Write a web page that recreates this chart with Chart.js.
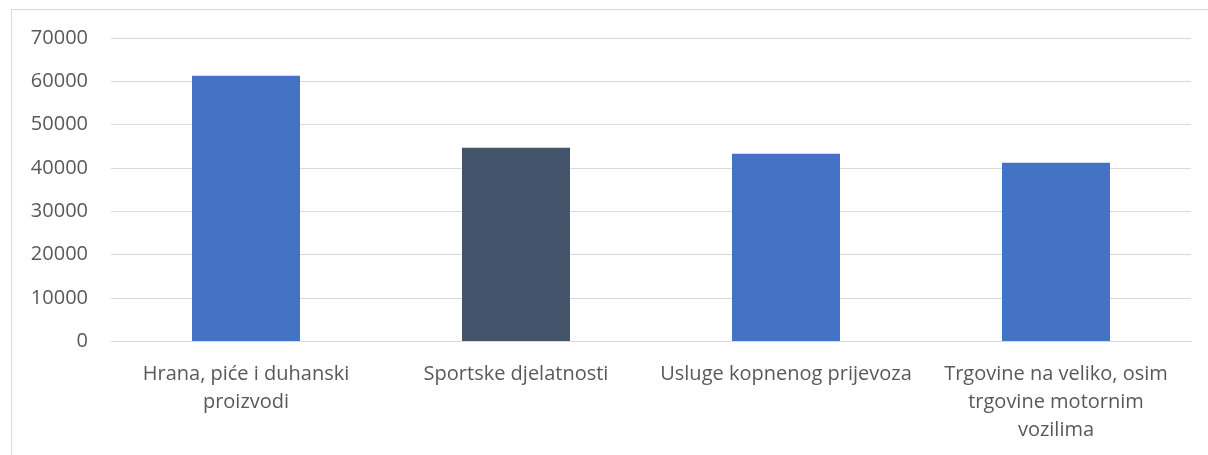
<!DOCTYPE html>
<html>
<head>
<meta charset="utf-8">
<script src="https://cdn.jsdelivr.net/npm/chart.js@4/dist/chart.umd.min.js"></script>
<style>
  html, body { margin: 0; padding: 0; background: #fff; }
  #wrap { position: relative; width: 1208px; height: 455px; }
  #frame { position: absolute; left: 11px; top: 9px; width: 1197px; height: 446px;
           border-left: 1px solid #d9d9d9; border-top: 1px solid #d9d9d9; box-sizing: border-box; }
  canvas { position: absolute; left: 0; top: 0; }
</style>
</head>
<body>
<div id="wrap">
  <div id="frame"></div>
  <canvas id="c" width="1208" height="455"></canvas>
</div>
<script>
const categories = [
  ["Hrana, piće i duhanski", "proizvodi"],
  ["Sportske djelatnosti"],
  ["Usluge kopnenog prijevoza"],
  ["Trgovine na veliko, osim", "trgovine motornim", "vozilima"]
];
const values = [61300, 44700, 43300, 41200];
const barColors = ["#4472C4", "#44546A", "#4472C4", "#4472C4"];
const yMin = 0, yMax = 70000, yStep = 10000;

const FONT = "'Open Sans', 'Liberation Sans', sans-serif";

new Chart(document.getElementById('c'), {
  type: 'bar',
  data: {
    labels: categories,
    datasets: [{
      data: values,
      backgroundColor: barColors,
      borderWidth: 0,
      barPercentage: 0.4,
      categoryPercentage: 1.0
    }]
  },
  options: {
    responsive: false,
    animation: false,
    devicePixelRatio: 1,
    layout: { padding: { left: 0, right: 17, top: 38, bottom: 0 } },
    plugins: { legend: { display: false }, tooltip: { enabled: false } },
    scales: {
      x: {
        grid: { display: false, drawTicks: false },
        border: { display: true, color: '#d9d9d9', width: 1 },
        ticks: { color: '#595959', font: { family: FONT, size: 20, lineHeight: 1.4 }, padding: 19, maxRotation: 0, autoSkip: false },
        afterFit: (s) => { s.height = 113.5; }
      },
      y: {
        min: yMin, max: yMax,
        grid: { color: '#d9d9d9', lineWidth: 1, drawTicks: false },
        border: { display: false },
        ticks: { stepSize: yStep, color: '#595959', font: { family: FONT, size: 20 }, padding: 23,
                 callback: (v) => String(v) },
        afterFit: (s) => { s.width = 111; }
      }
    }
  }
});
</script>
</body>
</html>
